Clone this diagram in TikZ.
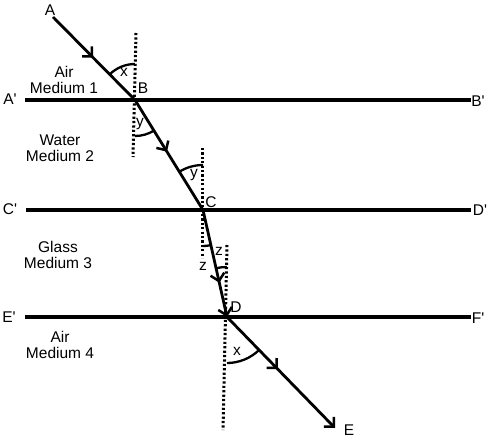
\documentclass[tikz,border=0pt]{standalone}
\usepackage{fontspec}
\setmainfont{Liberation Sans}
\usetikzlibrary{arrows.meta,decorations.markings}
\newcommand{\pr}{\textquotesingle}
\begin{document}
\begin{tikzpicture}[x=1pt,y=1pt,
  lbl/.style={inner sep=0pt,font=\fontsize{15.5}{16.5}\selectfont},
  medium/.style={lbl,align=center},
  surface/.style={line width=3.2pt},
  ray/.style={line width=2.8pt},
  normal/.style={line width=3pt,dash pattern=on 2.2pt off 2.2pt},
  angarc/.style={line width=2.3pt},
  chev/.style={-{Straight Barb[length=7pt,width=14pt,line width=2.5pt]}},
  midarrow/.style={postaction={decorate},decoration={markings,
     mark=at position #1 with {\arrow{Straight Barb[length=7pt,width=14pt,line width=2.5pt]}}}}
]
\useasboundingbox (0,0) rectangle (492,440);
% points
\coordinate (A) at (53,423);
\coordinate (B) at (135,340);
\coordinate (C) at (203,230);
\coordinate (D) at (227,123);
\coordinate (E) at (335,12);
\coordinate (Ap) at (25,340);
\coordinate (Bp) at (471,340);
\coordinate (Cp) at (26,230);
\coordinate (Dp) at (471,230);
\coordinate (Ep) at (25,123);
\coordinate (Fp) at (471,123);
\coordinate (NBt) at (136,407);
\coordinate (NBb) at (133,283);
\coordinate (NCt) at (202,292);
\coordinate (NCb) at (202,182);
\coordinate (NDt) at (227,195);
\coordinate (NDb) at (223,10);
% surfaces
\draw[surface] (Ap) -- (Bp);
\draw[surface] (Cp) -- (Dp);
\draw[surface] (Ep) -- (Fp);
% normals
\draw[normal] (NBt) -- (NBb);
\draw[normal] (NCt) -- (NCb);
\draw[normal] (NDt) -- (NDb);
% ray
\draw[ray,midarrow=0.49] (A) -- (B);
\draw[ray,midarrow=0.47] (B) -- (C);
\draw[ray,midarrow=0.68,chev] (C) -- (D);
\draw[ray,midarrow=0.47,chev] (D) -- (E);
% angle arcs
\draw[angarc] ([shift={(90:36)}]B) arc[start angle=90,end angle=134.7,radius=36];
\draw[angarc] ([shift={(270:36)}]B) arc[start angle=270,end angle=301.7,radius=36];
\draw[angarc] ([shift={(90:45)}]C) arc[start angle=90,end angle=121.7,radius=45];
\draw[angarc] ([shift={(270:36)}]C) arc[start angle=270,end angle=282.6,radius=36];
\draw[angarc] ([shift={(90:50)}]D) arc[start angle=90,end angle=102.6,radius=50];
\draw[angarc] ([shift={(270:46)}]D) arc[start angle=270,end angle=313.7,radius=46];
% point labels
\node[lbl] (lA) at (50,430) {A};
\node[lbl] (lB) at (143,352) {B};
\node[lbl] (lC) at (211,238) {C};
\node[lbl] (lD) at (236,133) {D};
\node[lbl] (lE) at (349,10) {E};
\node[lbl] (lAp) at (10,341) {A\pr};
\node[lbl] (lBp) at (478,339) {B\pr};
\node[lbl] (lCp) at (10,231) {C\pr};
\node[lbl] (lDp) at (480,230) {D\pr};
\node[lbl] (lEp) at (9,123) {E\pr};
\node[lbl] (lFp) at (478,122) {F\pr};
% angle labels
\node[lbl] (ax1) at (124,368) {x};
\node[lbl] (ay1) at (140,316) {y};
\node[lbl] (ay2) at (194,265) {y};
\node[lbl] (az1) at (203,174) {z};
\node[lbl] (az2) at (219,189) {z};
\node[lbl] (ax2) at (237,89) {x};
% media
\node[medium] (m1) at (64,360) {Air\\Medium 1};
\node[medium] (m2) at (60,292) {Water\\Medium 2};
\node[medium] (m3) at (58,185) {Glass\\Medium 3};
\node[medium] (m4) at (60,95) {Air\\Medium 4};
\end{tikzpicture}
\end{document}
